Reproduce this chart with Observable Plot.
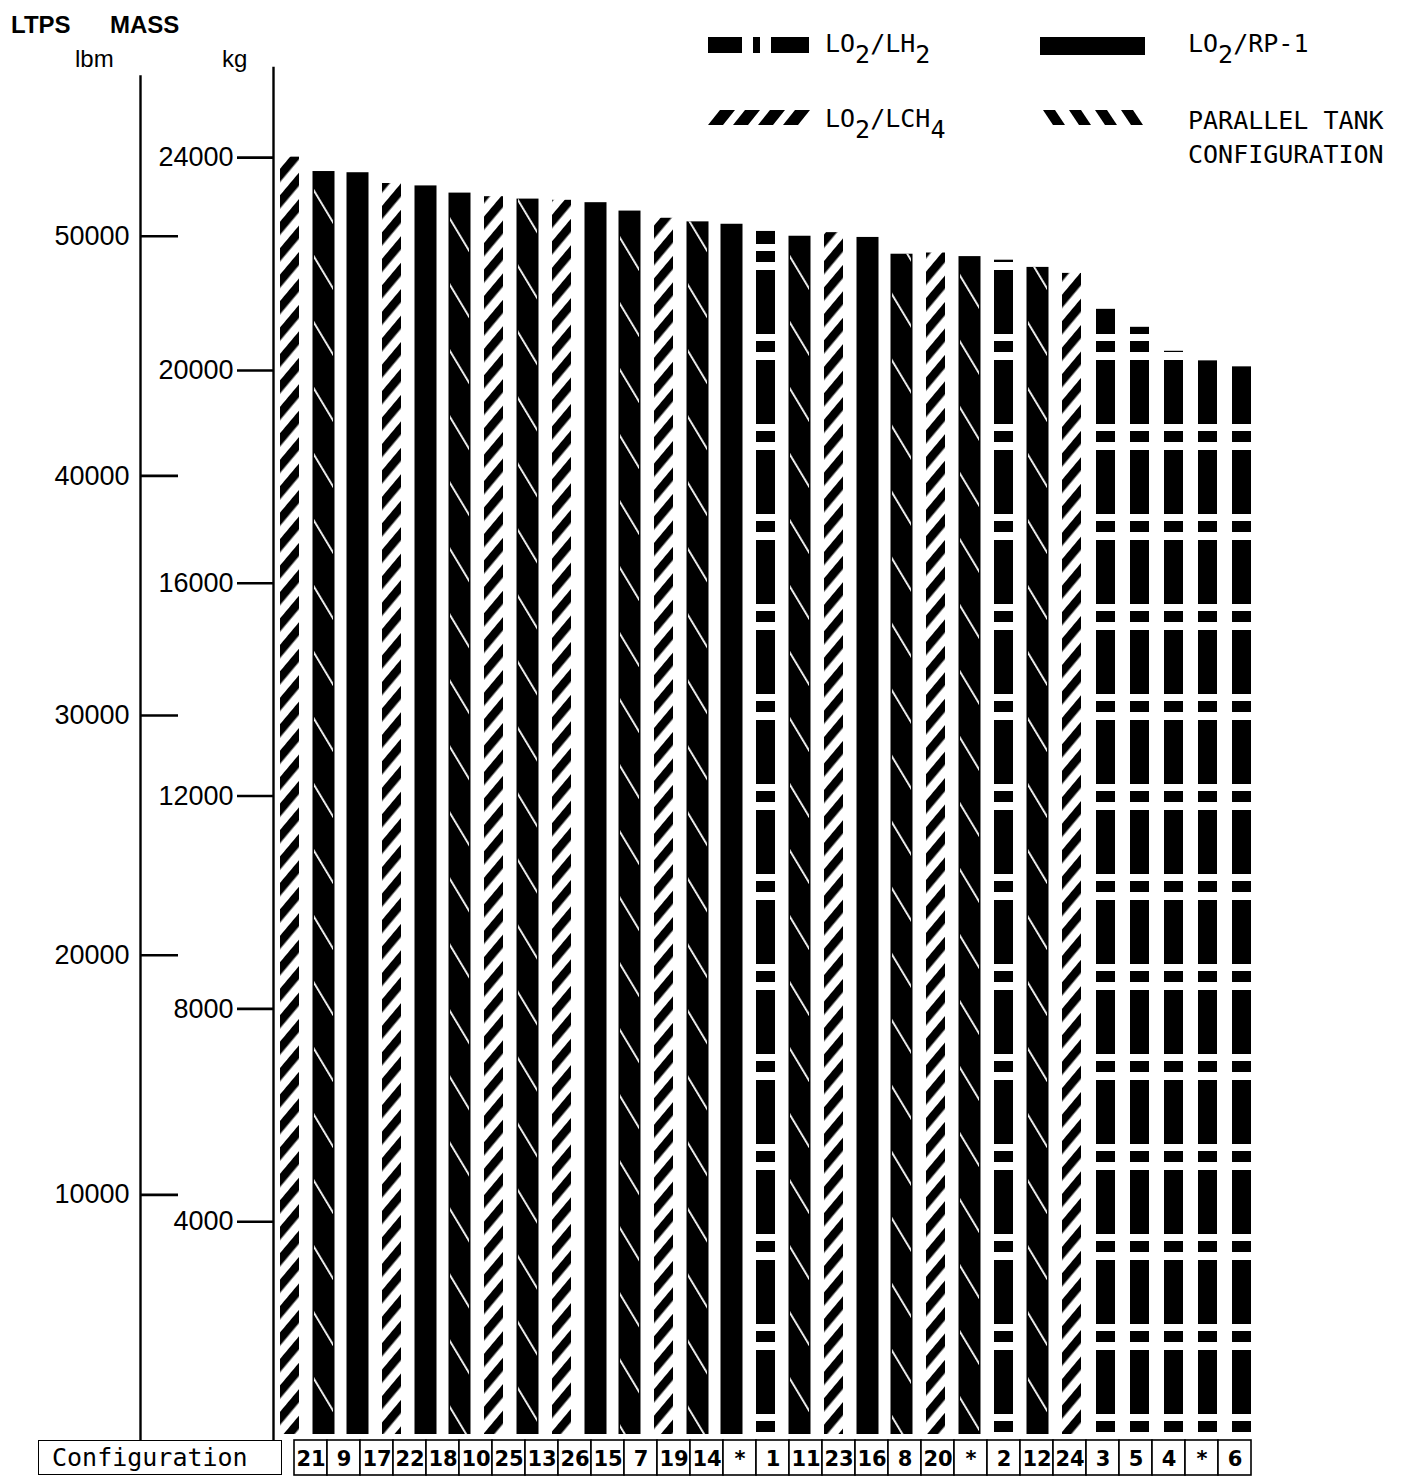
<!DOCTYPE html>
<html>
<head>
<meta charset="utf-8">
<script src="https://cdn.jsdelivr.net/npm/d3@7"></script>
<script src="https://cdn.jsdelivr.net/npm/@observablehq/plot@0.6"></script>
<style>
  body { margin: 0; background: #fff; }
  #page { position: relative; width: 1401px; height: 1478px; overflow: hidden; background: #fff; }
  #page > svg, #page > div { position: absolute; }
  #cfg { left: 38px; top: 1440px; width: 244px; height: 35px; box-sizing: border-box;
         border: 1.6px solid #000; font: 25px 'DejaVu Sans Mono', monospace; line-height: 33px; padding-left: 13px; }
</style>
</head>
<body>
<div id="page"></div>
<script>
// ---- data ----
const configs = ["21","9","17","22","18","10","25","13","26","15","7","19","14","*","1","11","23","16","8","20","*","2","12","24","3","5","4","*","6"];
const massLbm = [53300,52700,52650,52200,52100,51800,51650,51550,51500,51400,51050,50750,50600,50500,50200,50000,50150,49950,49250,49300,49150,49000,48700,48450,46950,46200,45200,44800,44550];
const propellant = ["LCH4","RP1","RP1","LCH4","RP1","RP1","LCH4","RP1","LCH4","RP1","RP1","LCH4","RP1","RP1","LH2","RP1","LCH4","RP1","RP1","LCH4","RP1","LH2","RP1","LCH4","LH2","LH2","LH2","LH2","LH2"];
const parallelTank = [false,true,false,false,false,true,false,true,false,false,true,false,true,false,false,true,false,false,true,false,true,false,true,false,false,false,false,false,false];
const lbmTicks = [10000, 20000, 30000, 40000, 50000];
const kgTicks = [4000, 8000, 12000, 16000, 20000, 24000];

const rows = configs.map((config, i) => ({key: i, config, mass: massLbm[i], propellant: propellant[i], parallel: parallelTank[i]}));

// ---- layout ----
const page = document.getElementById("page");
const W = 1401, MAIN_H = 1440, ML = 273, MR = 141, MT = 56, MB = 6;
const LBM_AXIS_X = 140, KG_AXIS_X = 273;
const KG_REG = 2.22; // registration of the printed kg scale against the lbm scale
const frameCenter = (ML + (W - MR)) / 2;
const tickFont = "'Liberation Sans', Arial, sans-serif";
const fmt = d3.format("d");

const chart = Plot.plot({
  width: W, height: MAIN_H,
  marginLeft: ML, marginRight: MR, marginTop: MT, marginBottom: MB,
  style: {background: "transparent", color: "black", fontFamily: tickFont, fontSize: "27px"},
  x: {type: "band", domain: rows.map(d => d.key), range: [276, 1255], paddingInner: 0.44, paddingOuter: 0, axis: null},
  y: {domain: [0, 57500], axis: null},
  marks: [
    Plot.barY(rows.filter(d => d.propellant === "LCH4"), {x: "key", y: "mass", fill: "url(#lch4)"}),
    Plot.barY(rows.filter(d => d.propellant === "LH2"), {x: "key", y: "mass", fill: "url(#lh2)"}),
    Plot.barY(rows.filter(d => d.propellant === "RP1"), {x: "key", y: "mass", fill: "black", insetLeft: -1.5, insetRight: -1.5}),
    Plot.barY(rows.filter(d => d.parallel), {x: "key", y: "mass", fill: "url(#parallel)"}),
    // lbm axis
    Plot.ruleX([0], {x: null, y1: -260, y2: 56700, dx: LBM_AXIS_X - frameCenter, strokeWidth: 2.4}),
    Plot.axisY(lbmTicks, {anchor: "left", dx: 178 - ML, tickSize: 38, tickPadding: 11, strokeWidth: 2.6,
      tickFormat: fmt, label: null, fontSize: 27}),
    // kg axis
    Plot.ruleX([0], {x: null, y1: -260, y2: 57050, dx: KG_AXIS_X - frameCenter, strokeWidth: 2.4}),
    Plot.axisY(kgTicks.map(k => k * KG_REG), {anchor: "left", dx: 0, tickSize: 36, tickPadding: 4, strokeWidth: 2.6,
      tickFormat: v => fmt(Math.round(v / KG_REG)), label: null, fontSize: 27})
  ]
});
chart.style.left = "0px"; chart.style.top = "0px";
page.appendChild(chart);

// fill patterns
const defs = d3.select(chart).insert("defs", ":first-child");
const lch4 = defs.append("pattern").attr("id", "lch4").attr("patternUnits", "userSpaceOnUse")
  .attr("width", 17).attr("height", 17).attr("patternTransform", "rotate(40)");
lch4.append("rect").attr("width", 17).attr("height", 17).attr("fill", "white");
lch4.append("rect").attr("width", 8.5).attr("height", 17).attr("fill", "black");
const lh2 = defs.append("pattern").attr("id", "lh2").attr("patternUnits", "userSpaceOnUse")
  .attr("width", 10).attr("height", 90);
lh2.append("rect").attr("width", 10).attr("height", 90).attr("fill", "white");
lh2.append("rect").attr("y", 0).attr("width", 10).attr("height", 64).attr("fill", "black");
lh2.append("rect").attr("y", 71).attr("width", 10).attr("height", 11).attr("fill", "black");
const par = defs.append("pattern").attr("id", "parallel").attr("patternUnits", "userSpaceOnUse")
  .attr("width", 34).attr("height", 34).attr("patternTransform", "rotate(-31)");
par.append("rect").attr("width", 1.8).attr("height", 34).attr("fill", "white");

// ---- configuration row ----
const table = Plot.plot({
  width: W, height: 37, marginLeft: 282, marginRight: W - 1262, marginTop: 1, marginBottom: 1,
  style: {background: "transparent", color: "black"},
  x: {type: "band", domain: rows.map(d => d.key), padding: 0, axis: null},
  marks: [
    Plot.cell(rows, {x: "key", fill: "white", stroke: "black", strokeWidth: 1.6}),
    Plot.text(rows, {x: "key", text: "config", fontSize: 21, fontWeight: "bold",
      fontFamily: "'DejaVu Sans', sans-serif", dy: 1})
  ]
});
table.style.left = "0px"; table.style.top = "1439px";
page.appendChild(table);
const cfg = document.createElement("div");
cfg.id = "cfg"; cfg.textContent = "Configuration";
page.appendChild(cfg);

// ---- header texts and legend ----
const head = d3.select(page).append("svg").attr("width", W).attr("height", 200)
  .style("left", "0px").style("top", "0px");
const t = (x, y, s, size, opts = {}) => head.append("text").attr("x", x).attr("y", y)
  .attr("font-family", opts.family || tickFont).attr("font-size", size)
  .attr("font-weight", opts.weight || "normal").text(s);
t(11, 33, "LTPS", 24, {weight: "bold"});
t(110, 33, "MASS", 24, {weight: "bold"});
t(75, 67, "lbm", 24);
t(222, 67, "kg", 24);

const mono = "'DejaVu Sans Mono', monospace";
const SUB = 11;
function legendText(x, y, parts) {
  const el = head.append("text").attr("x", x).attr("y", y).attr("font-family", mono).attr("font-size", 25);
  let shift = 0;
  parts.forEach(([s, sub]) => {
    const target = sub ? SUB : 0;
    el.append("tspan").attr("dy", target - shift).text(s);
    shift = target;
  });
}
legendText(825, 52, [["LO", 0], ["2", 1], ["/LH", 0], ["2", 1]]);
legendText(1188, 52, [["LO", 0], ["2", 1], ["/RP-1", 0]]);
legendText(825, 127, [["LO", 0], ["2", 1], ["/LCH", 0], ["4", 1]]);
head.append("text").attr("x", 1188).attr("y", 129).attr("font-family", mono).attr("font-size", 25).text("PARALLEL TANK");
head.append("text").attr("x", 1188).attr("y", 163).attr("font-family", mono).attr("font-size", 25).text("CONFIGURATION");

// swatches
[[708, 742], [753, 760], [771, 809]].forEach(([a, b]) =>
  head.append("rect").attr("x", a).attr("y", 37).attr("width", b - a).attr("height", 16));
head.append("rect").attr("x", 1040).attr("y", 37).attr("width", 105).attr("height", 18);
for (let i = 0; i < 4; i++) {
  const x0 = 708 + i * 25;
  head.append("polygon").attr("points", [[x0, 125], [x0 + 15, 125], [x0 + 27, 110], [x0 + 12, 110]].map(p => p.join(",")).join(" "));
  const x1 = 1043 + i * 26;
  head.append("polygon").attr("points", [[x1, 110], [x1 + 12, 110], [x1 + 22, 125], [x1 + 10, 125]].map(p => p.join(",")).join(" "));
}
</script>
</body>
</html>
